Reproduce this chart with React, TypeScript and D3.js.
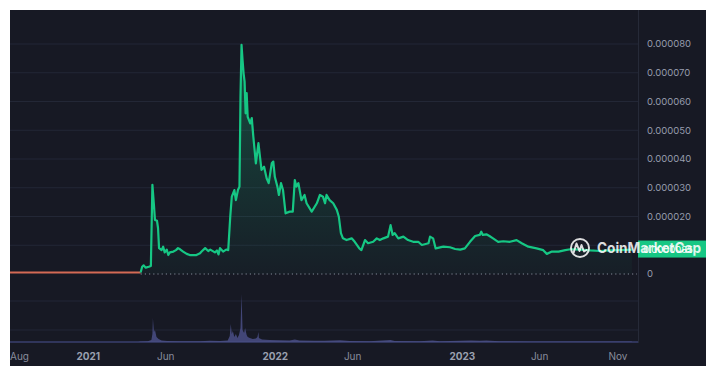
import React from "react";
import * as d3 from "d3";

// ---- data (price values in units of 0.00001) ----
const redDates = ["2020-08-01", "2020-11-15", "2021-02-01", "2021-04-13"];
const redValues = [0.05, 0.05, 0.05, 0.05];

const priceDates = [
  "2021-04-13","2021-04-16","2021-04-19","2021-04-23","2021-04-29","2021-05-03","2021-05-06","2021-05-09",
  "2021-05-11","2021-05-15","2021-05-17","2021-05-19","2021-05-24","2021-05-27","2021-05-30","2021-06-03",
  "2021-06-06","2021-06-09","2021-06-16","2021-06-21","2021-06-25","2021-06-29","2021-07-05","2021-07-12",
  "2021-07-18","2021-07-31","2021-08-07","2021-08-10","2021-08-17","2021-08-23","2021-08-27","2021-09-05",
  "2021-09-09","2021-09-12","2021-09-15","2021-09-21","2021-09-27","2021-10-01","2021-10-05","2021-10-08",
  "2021-10-13","2021-10-16","2021-10-20","2021-10-23","2021-10-25","2021-10-27","2021-10-29","2021-10-31",
  "2021-11-02","2021-11-04","2021-11-06","2021-11-08","2021-11-13","2021-11-16","2021-11-19","2021-11-24",
  "2021-11-29","2021-12-02","2021-12-05","2021-12-10","2021-12-15","2021-12-19","2021-12-25","2021-12-28",
  "2021-12-31","2022-01-05","2022-01-08","2022-01-12","2022-01-16","2022-01-21","2022-01-29","2022-02-04",
  "2022-02-08","2022-02-11","2022-02-15","2022-02-21","2022-02-27","2022-03-03","2022-03-13","2022-03-23",
  "2022-03-29","2022-04-04","2022-04-08","2022-04-11","2022-04-17","2022-04-24","2022-05-01","2022-05-05",
  "2022-05-09","2022-05-13","2022-05-20","2022-05-30","2022-06-05","2022-06-14","2022-06-18","2022-06-25",
  "2022-07-01","2022-07-11","2022-07-18","2022-07-24","2022-07-31","2022-08-09","2022-08-14","2022-08-18",
  "2022-08-22","2022-08-29","2022-09-08","2022-09-17","2022-09-27","2022-10-07","2022-10-14","2022-10-27",
  "2022-10-30","2022-11-05","2022-11-10","2022-11-25","2022-12-08","2022-12-18","2022-12-28","2023-01-06",
  "2023-01-16","2023-01-26","2023-02-04","2023-02-07","2023-02-10","2023-02-17","2023-02-23","2023-03-02",
  "2023-03-12","2023-03-22","2023-04-04","2023-04-17","2023-04-27","2023-05-10","2023-05-26","2023-06-08",
  "2023-06-15","2023-06-25","2023-07-08","2023-07-21","2023-07-31","2023-08-19","2023-09-08","2023-09-27",
  "2023-10-17","2023-11-05","2023-11-28"
];
const priceValues = [
  0.05,0.25,0.3,0.22,0.25,0.28,3.1,2.4,
  1.88,1.85,1.6,0.9,0.83,0.95,0.75,0.85,
  0.66,0.75,0.78,0.83,0.9,0.86,0.78,0.7,
  0.66,0.66,0.72,0.78,0.9,0.8,0.85,0.75,
  0.82,0.68,0.9,0.78,0.85,0.83,2.0,2.69,
  2.92,2.57,2.92,3.04,6.17,7.97,7.44,6.98,
  6.69,5.59,6.29,5.47,5.24,5.42,4.78,3.85,
  4.55,4.08,3.62,3.73,3.33,3.16,3.85,3.91,
  3.38,3.04,2.75,3.16,2.92,2.11,2.17,2.17,
  3.27,3.04,3.16,2.57,2.75,2.46,2.17,2.46,
  2.75,2.69,2.46,2.75,2.57,2.46,2.23,1.99,
  1.42,1.24,1.18,1.24,1.12,0.89,0.83,1.18,
  1.07,1.12,1.24,1.18,1.24,1.3,1.7,1.36,
  1.42,1.24,1.3,1.18,1.12,1.12,1.01,1.07,
  1.3,1.24,0.89,0.95,0.93,0.87,0.85,0.89,
  1.12,1.32,1.36,1.47,1.36,1.38,1.32,1.24,
  1.12,1.14,1.12,1.18,1.07,0.95,0.89,0.83,
  0.7,0.78,0.78,0.83,0.86,0.85,0.82,0.8,
  0.82,0.83,0.85
];

const volDates = [
  "2020-08-01","2021-04-08","2021-04-13","2021-04-27","2021-05-04","2021-05-06","2021-05-07","2021-05-09",
  "2021-05-11","2021-05-14","2021-05-18","2021-05-24","2021-06-04","2021-06-29","2021-08-07","2021-08-26",
  "2021-09-15","2021-09-30","2021-10-04","2021-10-06","2021-10-08","2021-10-10","2021-10-13","2021-10-16",
  "2021-10-19","2021-10-22","2021-10-25","2021-10-27","2021-10-29","2021-11-01","2021-11-03","2021-11-06",
  "2021-11-08","2021-11-12","2021-11-18","2021-11-24","2021-11-27","2021-11-29","2021-11-30","2021-12-06",
  "2021-12-21","2022-01-09","2022-01-29","2022-02-08","2022-02-17","2022-03-18","2022-04-07","2022-05-07",
  "2022-05-26","2022-07-04","2022-08-14","2022-08-22","2022-10-10","2022-11-04","2022-11-18","2023-01-18",
  "2023-02-04","2023-02-17","2023-03-14","2023-05-13","2023-07-11","2023-09-26","2023-11-28"
];
const volValues = [
  0,0,0.5,0.8,2,8,24,10,
  12,5,3,1.5,1,0.7,0.8,1.2,
  1,1.5,6,18,8,11,5,8,
  4,7,14,48,12,9,14,7,
  5,4,3,3.5,5,10,4,2.5,
  2,1.8,1.6,2.5,1.5,1.3,1.2,1.8,
  1,0.8,2,1,0.8,1.5,0.7,1.5,
  1.2,1.4,0.8,0.6,0.6,0.5,0.5
];

const priceTicks = [0, 1, 2, 3, 4, 5, 6, 7, 8];
const priceTickLabels = ["0", "0.000010", "0.000020", "0.000030", "0.000040", "0.000050", "0.000060", "0.000070", "0.000080"];
const volGridTicks = [12, 41];
const xTickDates = ["2020-08-01", "2021-01-01", "2021-06-01", "2022-01-01", "2022-06-01", "2023-01-01", "2023-06-01", "2023-11-01"];
const xTickLabels = ["Aug", "2021", "Jun", "2022", "Jun", "2023", "Jun", "Nov"];
const xTickBold = [false, true, false, true, false, true, false, false];
const currentPriceLabel = "0.0000085";
const currentPrice = 0.85;

const parse = d3.utcParse("%Y-%m-%d");

export default function App() {
  const x = d3.scaleUtc().domain([parse("2020-08-01")!, parse("2023-12-10")!]).range([10, 638]);
  const y = d3.scaleLinear().domain([0, 8]).range([274, 44]);
  const yv = d3.scaleLinear().domain([0, 60]).range([342, 282]);

  const green = priceDates.map((d, i) => ({ d: parse(d)!, v: priceValues[i] }));
  const red = redDates.map((d, i) => ({ d: parse(d)!, v: redValues[i] }));
  const vol = volDates.map((d, i) => ({ d: parse(d)!, v: volValues[i] }));

  const line = d3.line<{ d: Date; v: number }>().x((p) => x(p.d)).y((p) => y(p.v));
  const area = d3.area<{ d: Date; v: number }>().x((p) => x(p.d)).y0(y(0)).y1((p) => y(p.v));
  const volArea = d3.area<{ d: Date; v: number }>().x((p) => x(p.d)).y0(yv(0)).y1((p) => yv(p.v));

  const font = "Inter, 'Noto Sans', sans-serif";
  const startX = x(green[0].d);
  const cy = y(currentPrice);

  return (
    <svg width={716} height={376} style={{ position: "absolute", left: 0, top: 0 }}>
      <defs>
        <linearGradient id="gfill" gradientUnits="userSpaceOnUse" x1="0" y1={y(8)} x2="0" y2={y(0)}>
          <stop offset="0" stopColor="#16c784" stopOpacity={0.3} />
          <stop offset="1" stopColor="#16c784" stopOpacity={0.03} />
        </linearGradient>
      </defs>
      <rect x={0} y={0} width={716} height={376} fill="#ffffff" />
      <rect x={10} y={10} width={696} height={356} fill="#171924" />
      {/* price grid */}
      {priceTicks.filter((t) => t > 0).map((t) => (
        <line key={t} x1={10} x2={638} y1={y(t)} y2={y(t)} stroke="#232736" strokeWidth={1} />
      ))}
      {/* volume grid */}
      {volGridTicks.map((t) => (
        <line key={t} x1={10} x2={638} y1={yv(t)} y2={yv(t)} stroke="#232736" strokeWidth={1} />
      ))}
      <line x1={638.5} x2={638.5} y1={10} y2={343} stroke="#262a38" strokeWidth={1} />
      {/* volume */}
      <line x1={10} x2={638} y1={yv(0)} y2={yv(0)} stroke="#3a3f6e" strokeWidth={1.5} />
      <path d={volArea(vol) || ""} fill="#4a4f86" fillOpacity={0.85} />
      {/* dotted baseline */}
      <line x1={startX} x2={637} y1={y(0)} y2={y(0)} stroke="#aab0c0" strokeWidth={1} strokeDasharray="1.2 3" opacity={0.75} />
      {/* price */}
      <path d={area(green) || ""} fill="url(#gfill)" />
      <path d={line(red) || ""} fill="none" stroke="#d46a55" strokeWidth={2} />
      <path d={line(green) || ""} fill="none" stroke="#16c784" strokeWidth={2.2} strokeLinejoin="round" />
      {/* y labels (the 0.000010 label is covered by the price tag in the reference) */}
      {priceTicks.map((t, i) =>
        t === 1 ? null : (
          <text key={t} x={647} y={y(t)} dy="0.35em" fontSize={9.5} fill="#969cad" fontFamily={font}>
            {priceTickLabels[i]}
          </text>
        )
      )}
      {/* x labels */}
      {xTickDates.map((d, i) => (
        <text
          key={i}
          x={i === 0 ? 10 : x(parse(d)!)}
          y={356}
          dy="0.35em"
          textAnchor={i === 0 ? "start" : "middle"}
          fontSize={10}
          fontWeight={xTickBold[i] ? 700 : 400}
          fill={xTickBold[i] ? "#9aa0b0" : "#878c9c"}
          fontFamily={font}
        >
          {xTickLabels[i]}
        </text>
      ))}
      {/* current price tag */}
      <rect x={638} y={cy - 9} width={68} height={17} fill="#16c784" />
      <text x={643} y={cy} dy="0.35em" fontSize={9.5} fill="#ffffff" fontFamily={font}>
        {currentPriceLabel}
      </text>
      {/* watermark */}
      <g opacity={0.85}>
        <circle cx={580} cy={248} r={9} fill="none" stroke="#ffffff" strokeWidth={2} />
        <path d="M573.5,253 L576.5,243.5 L579.5,251 L581.5,245 L584,251.5 L586.5,250" fill="none" stroke="#ffffff" strokeWidth={2} strokeLinejoin="round" strokeLinecap="round" />
        <text x={597} y={248} dy="0.36em" fontSize={14.5} fontWeight={700} fill="#ffffff" fontFamily={font} textLength={104} lengthAdjust="spacingAndGlyphs">
          CoinMarketCap
        </text>
      </g>
    </svg>
  );
}
